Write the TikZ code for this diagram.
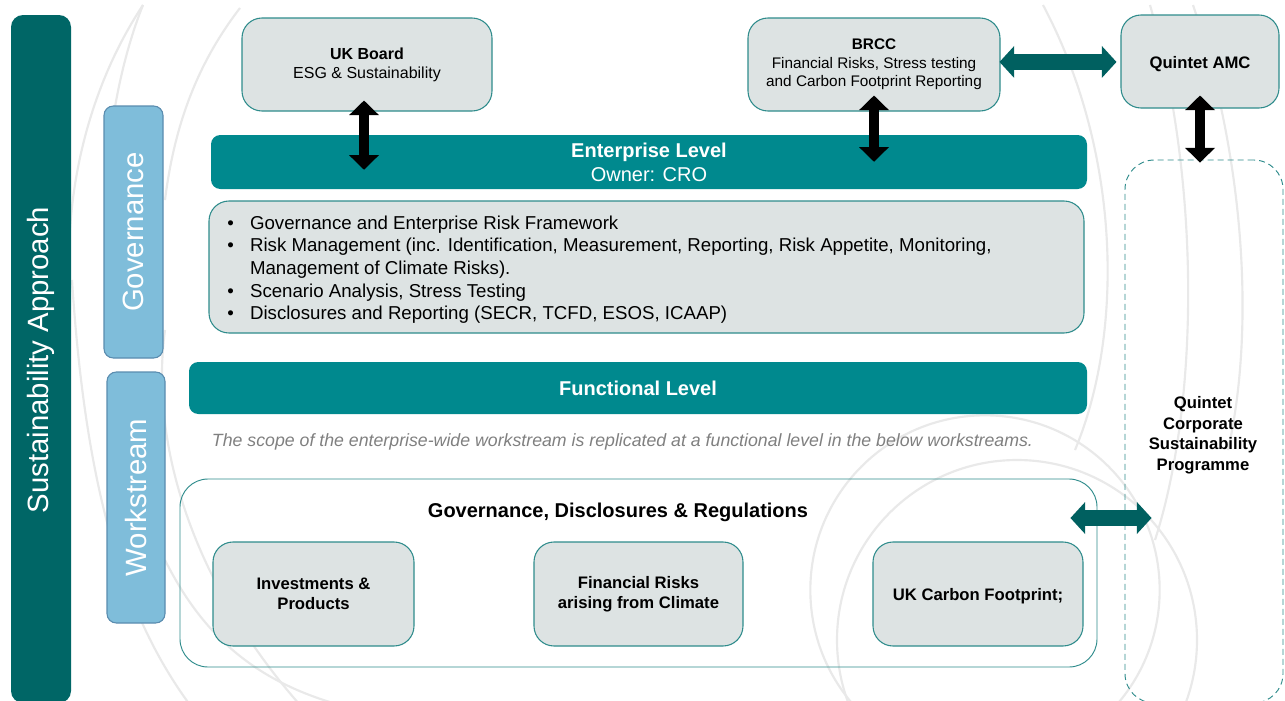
\documentclass[tikz,border=0pt]{standalone}
\usepackage{fontspec}
\setmainfont{Liberation Sans}
\usetikzlibrary{arrows.meta}
\definecolor{darkteal}{RGB}{0,102,102}
\definecolor{barteal}{RGB}{0,137,142}
\definecolor{lblue}{RGB}{127,189,218}
\definecolor{lblueb}{RGB}{90,140,175}
\definecolor{boxgray}{RGB}{221,227,227}
\definecolor{boxedge}{RGB}{47,140,140}
\definecolor{arrteal}{RGB}{0,96,96}
\definecolor{arcgray}{RGB}{233,233,233}
\definecolor{itgray}{RGB}{128,128,128}
\tikzset{
  sz/.style 2 args={minimum width=#1, minimum height=#2},
  sidebar/.style={fill=darkteal, draw=none, rounded corners=9pt, inner sep=0pt},
  tabbox/.style={fill=lblue, draw=lblueb, line width=0.8pt, rounded corners=7pt, inner sep=0pt},
  tabtext/.style={rotate=90, text=white, font=\fontsize{22}{26}\selectfont},
  gbox/.style={fill=boxgray, draw=boxedge, line width=0.8pt, rounded corners=15pt, inner sep=0pt, align=center},
  bar/.style={fill=barteal, draw=none, rounded corners=7pt, inner sep=0pt, text=white, align=center},
  bgarc/.style={draw=arcgray, line width=1.6pt},
  blkarrow/.style={draw=black, line width=8pt,
    {Triangle[width=22.5pt,length=11pt,line width=0pt]}-{Triangle[width=22.5pt,length=11pt,line width=0pt]}},
  tealarrow/.style={draw=arrteal, line width=12pt,
    {Triangle[width=24pt,length=11pt,line width=0pt]}-{Triangle[width=24pt,length=11pt,line width=0pt]}},
}
\begin{document}
\begin{tikzpicture}[x=0.75pt,y=-0.75pt]
\useasboundingbox (0,0) rectangle (1285,700);
\clip (0,0) rectangle (1285,700);
\fill[white] (0,0) rectangle (1285,700);

% background decorative arcs
\draw[bgarc] (143,5) .. controls (100,70) and (75,150) .. (70,230);
\draw[bgarc] (143,5) .. controls (125,50) and (115,100) .. (110,140);
\draw[bgarc] (240,8) .. controls (200,60) and (175,120) .. (165,200);
\draw[bgarc] (72,280) .. controls (85,480) and (120,610) .. (190,705);
\draw[bgarc] (165,330) .. controls (150,440) and (190,580) .. (300,705);
\draw[bgarc] (165,560) .. controls (200,630) and (250,680) .. (340,705);
\draw[bgarc] (1043,5) .. controls (1120,150) and (1125,330) .. (1075,450);
\draw[bgarc] (1150,5) .. controls (1200,180) and (1200,400) .. (1155,540);
\draw[bgarc] (1193,5) .. controls (1245,160) and (1255,330) .. (1228,450);
\draw[bgarc] (985,590) circle[radius=131pt];
\draw[bgarc] (1017,640) circle[radius=135pt];

% left side bars
\node[sidebar, sz={45pt}{516pt}] (sa) at (41,359) {};
\node[tabtext] (satxt) at (41,360) {Sustainability Approach};
\node[tabbox, sz={44.25pt}{189pt}] (gov) at (133.5,232) {};
\node[tabtext] (govtxt) at (gov.center) {Governance};
\node[tabbox, sz={43.5pt}{188.25pt}] (ws) at (136,497.5) {};
\node[tabtext] (wstxt) at (ws.center) {Workstream};

% top boxes
\node[gbox, sz={187.5pt}{69.75pt}, font=\fontsize{12}{14.3}\selectfont] (ukb) at (367,64.5)
  {\textbf{UK Board}\\ESG \& Sustainability};
\node[gbox, sz={189pt}{69.75pt}, font=\fontsize{11.5}{13.9}\selectfont] (brcc) at (874,64.5)
  {\textbf{BRCC}\\Financial Risks, Stress testing\\and Carbon Footprint Reporting};
\node[gbox, sz={118.5pt}{69.75pt}, text height=10.5pt, text depth=0pt, font=\fontsize{12.5}{15}\selectfont\bfseries] (amc) at (1200,61.5)
  {Quintet AMC};

% enterprise level
\node[bar, sz={657pt}{40.5pt}, font=\fontsize{15}{18}\selectfont] (ent) at (649,162)
  {\textbf{Enterprise Level}\\Owner: CRO};
\node[gbox, sz={656.25pt}{99pt}] (bul) at (646.5,267) {};
\node[anchor=west, inner sep=0pt, align=left, font=\fontsize{14}{16.9}\selectfont] (bultxt)
  at ([xshift=14pt,yshift=-2pt]bul.west)
  {\makebox[17pt][l]{\textbullet}Governance and Enterprise Risk Framework\\
   \makebox[17pt][l]{\textbullet}Risk Management (inc. Identification, Measurement, Reporting, Risk Appetite, Monitoring,\\
   \makebox[17pt][l]{}Management of Climate Risks).\\
   \makebox[17pt][l]{\textbullet}Scenario Analysis, Stress Testing\\
   \makebox[17pt][l]{\textbullet}Disclosures and Reporting (SECR, TCFD, ESOS, ICAAP)};

% functional level
\node[bar, sz={673.5pt}{39pt}, font=\fontsize{15}{18}\selectfont\bfseries] (fun) at (638,388)
  {Functional Level};
\node[text=itgray, font=\fontsize{13.3}{15}\selectfont\itshape] (scope) at (622.5,442)
  {The scope of the enterprise-wide workstream is replicated at a functional level in the below workstreams.};

% workstream group
\node[draw=boxedge, line width=0.7pt, rounded corners=21pt, inner sep=0pt, sz={687.75pt}{141pt}] (outer) at (638.5,573) {};
\node[font=\fontsize{15}{18}\selectfont\bfseries] (gdr) at (618,512) {Governance, Disclosures \& Regulations};
\node[gbox, sz={150.75pt}{78pt}, font=\fontsize{12.5}{15}\selectfont\bfseries] (inv) at (313.5,594)
  {Investments \&\\Products};
\node[gbox, sz={156.75pt}{78pt}, font=\fontsize{12.5}{15}\selectfont\bfseries] (fin) at (638.5,594)
  {Financial Risks\\arising from Climate};
\node[gbox, sz={157.5pt}{78pt}, text height=12pt, font=\fontsize{12.5}{15}\selectfont\bfseries] (ukc) at (978,594)
  {UK Carbon Footprint;};

% corporate sustainability programme
\node[draw=boxedge, line width=0.7pt, dash pattern=on 4.5pt off 3pt, rounded corners=22pt, inner sep=0pt,
      sz={118.5pt}{407.25pt}] (qcsp) at (1204,431.5) {};
\node[align=center, font=\fontsize{12.5}{15.4}\selectfont\bfseries] (qcsptxt) at (1203,435)
  {Quintet\\Corporate\\Sustainability\\Programme};

% connectors
\draw[blkarrow, shorten <=-8.25pt, shorten >=-26.25pt] ([xshift=-2.25pt]ukb.south) -- ([xshift=-2.25pt]ukb.south |- ent.north);
\draw[blkarrow, shorten <=-12pt, shorten >=-20.25pt] (brcc.south) -- (brcc.south |- ent.north);
\draw[blkarrow, shorten <=-9.75pt, shorten >=-2.25pt] (amc.south) -- (amc.south |- qcsp.north);
\draw[tealarrow, shorten <=-0.75pt, shorten >=3pt] ([yshift=1.9pt]brcc.east) -- ([yshift=1.9pt]brcc.east -| amc.west);
\draw[tealarrow, shorten <=-20.25pt, shorten >=-20.25pt] ([yshift=41.25pt]outer.east) -- ([yshift=41.25pt]outer.east -| qcsp.west);
\end{tikzpicture}
\end{document}
